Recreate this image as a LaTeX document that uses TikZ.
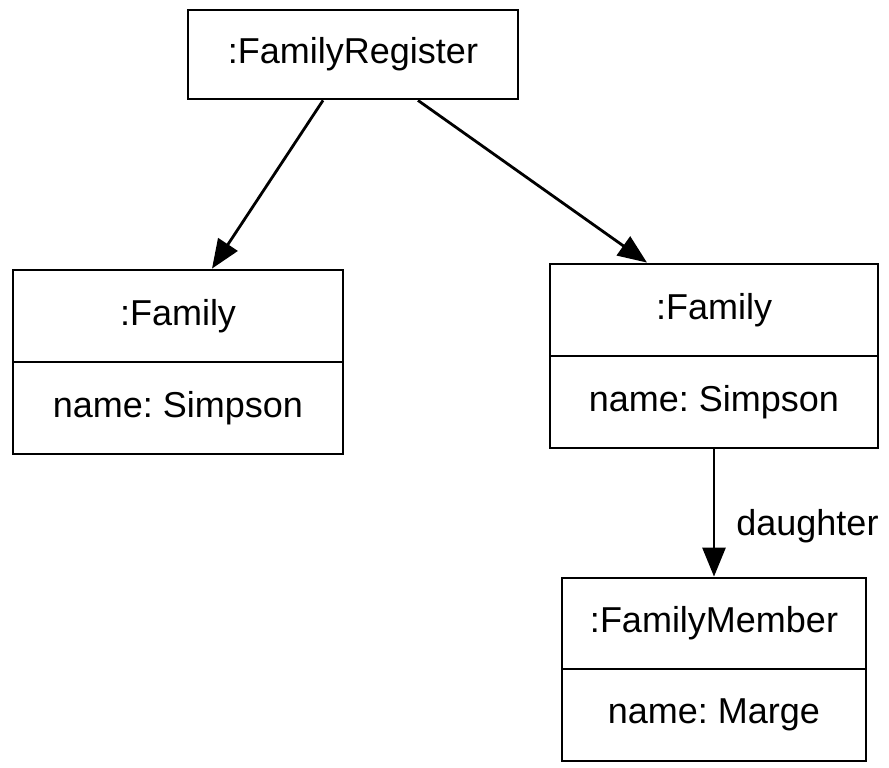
\documentclass[tikz,border=0pt]{standalone}
\usepackage{fontspec}
\setmainfont{Liberation Sans}
\frenchspacing
\usetikzlibrary{arrows.meta}

\tikzset{
	objbox/.style={draw, line width=2.8pt, inner sep=0pt, anchor=center,
		font=\fontsize{36}{43}\selectfont},
	assoc/.style={line width=2.8pt, -{Triangle[length=29pt,width=23pt]}}
}

\begin{document}
\begin{tikzpicture}[x=1pt,y=-1pt]
		\useasboundingbox (0,0) rectangle (889,768);
		%
		\node [objbox, minimum width=330pt, minimum height=89pt] (reg) at (353,54.5) {:FamilyRegister};
		%
		\node [objbox, minimum width=330pt, minimum height=92pt] (famLt) at (178,316) {:Family};
		\node [objbox, minimum width=330pt, minimum height=92pt] (famLb) at (178,408) {name: Simpson};
		%
		\node [objbox, minimum width=328pt, minimum height=92pt] (famRt) at (714,310) {:Family};
		\node [objbox, minimum width=328pt, minimum height=92pt] (famRb) at (714,402) {name: Simpson};
		%
		\node [objbox, minimum width=304pt, minimum height=91pt] (memt) at (714,623.5) {:FamilyMember};
		\node [objbox, minimum width=304pt, minimum height=92pt] (memb) at (714,715) {name: Marge};
		%
		\draw [assoc] ([xshift=-30pt]reg.south) to ([xshift=34pt]famLt.north);
		\draw [assoc] ([xshift=65pt]reg.south) to ([xshift=-67pt]famRt.north);
		\draw [assoc] (famRb.south) to node [pos=0.6, right=21pt, inner sep=0pt, font=\fontsize{36}{43}\selectfont] {daughter} (memt.north);
	\end{tikzpicture}
\end{document}
